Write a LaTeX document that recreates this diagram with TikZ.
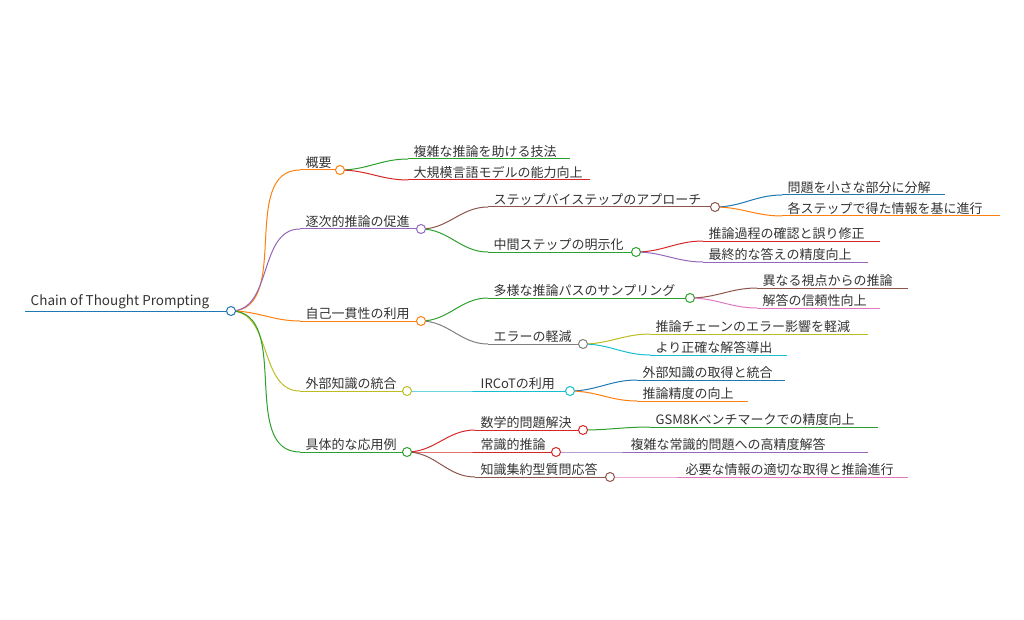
\documentclass[tikz,border=0pt]{standalone}
\usepackage{fontspec}
\setmainfont{Noto Sans CJK JP}
\definecolor{cblue}{HTML}{1F77B4}
\definecolor{corange}{HTML}{FF7F0E}
\definecolor{cgreen}{HTML}{2CA02C}
\definecolor{cred}{HTML}{D62728}
\definecolor{cpurple}{HTML}{9467BD}
\definecolor{cbrown}{HTML}{8C564B}
\definecolor{cpink}{HTML}{E377C2}
\definecolor{cgray}{HTML}{7F7F7F}
\definecolor{colive}{HTML}{BCBD22}
\definecolor{ccyan}{HTML}{17BECF}
\tikzset{
  mmline/.style={line width=1pt},
  mmtext/.style={anchor=south west, inner sep=1.5pt, font=\fontsize{13}{15}\selectfont, text=black!80},
  mmdot/.style={circle, draw, fill=white, line width=1pt, minimum size=9pt, inner sep=0pt},
}
% name, start x, end x, y, colour, text
\newcommand\mmitem[6]{%
  \coordinate (#1-s) at (#2,#4);
  \coordinate (#1-e) at (#3,#4);
  \draw[mmline,#5] (#1-s) -- (#1-e);
  \node[mmtext] (#1) at (#2+4,#4) {#6};
}
\newcommand\mmlink[3]{\draw[mmline,#3] (#1-e) to[out=0,in=180] (#2-s);}
\begin{document}
\begin{tikzpicture}[x=1pt,y=-1pt]
\useasboundingbox (0,0) rectangle (1024,620);

% root and first level
\mmitem{root}{25}{231}{311}{cblue}{\fontsize{13.5}{15}\selectfont Chain of Thought Prompting}
\mmitem{gaiyo}{300}{340}{170}{corange}{概要}
\mmitem{chikuji}{300}{421}{229}{cpurple}{逐次的推論の促進}
\mmitem{jiko}{300}{421}{321}{corange}{自己一貫性の利用}
\mmitem{gaibu}{300}{407}{391}{colive}{外部知識の統合}
\mmitem{gutai}{300}{407}{452}{cgreen}{具体的な応用例}

% second level
\mmitem{fukuzatsu}{408}{570}{159}{cgreen}{複雑な推論を助ける技法}
\mmitem{daikibo}{408}{590}{180}{cred}{大規模言語モデルの能力向上}
\mmitem{step}{488}{715}{207}{cbrown}{ステップバイステップのアプローチ}
\mmitem{chukan}{488}{636}{252}{cgreen}{中間ステップの明示化}
\mmitem{tayo}{488}{690}{298}{cgreen}{多様な推論パスのサンプリング}
\mmitem{error}{488}{583}{344}{cgray}{エラーの軽減}
\mmitem{ircot}{475}{570}{391}{ccyan}{IRCoTの利用}
\mmitem{sugaku}{475}{583}{430}{cred}{数学的問題解決}
\mmitem{joshiki}{475}{556}{452}{cred}{常識的推論}
\mmitem{chishiki}{475}{610}{477}{cbrown}{知識集約型質問応答}

% third level
\mmitem{bunkai}{782}{945}{195}{cblue}{問題を小さな部分に分解}
\mmitem{kaku}{782}{1000}{216}{corange}{各ステップで得た情報を基に進行}
\mmitem{kakunin}{703}{880}{241}{cred}{推論過程の確認と誤り修正}
\mmitem{saishu}{703}{868}{262}{cpurple}{最終的な答えの精度向上}
\mmitem{shiten}{757}{908}{288}{cbrown}{異なる視点からの推論}
\mmitem{shinrai}{757}{880}{308}{cpink}{解答の信頼性向上}
\mmitem{chain}{650}{868}{334}{colive}{推論チェーンのエラー影響を軽減}
\mmitem{seikaku}{650}{787}{355}{ccyan}{より正確な解答導出}
\mmitem{shutoku}{637}{785}{380}{cblue}{外部知識の取得と統合}
\mmitem{seido}{637}{748}{401}{corange}{推論精度の向上}
\mmitem{gsm}{650}{878}{427}{cgreen}{GSM8Kベンチマークでの精度向上}
\mmitem{kosei}{625}{868}{452}{cpurple}{複雑な常識的問題への高精度解答}
\mmitem{hitsuyo}{680}{908}{477}{cpink}{必要な情報の適切な取得と推論進行}

% connectors
\mmlink{root}{gaiyo}{corange}
\mmlink{root}{chikuji}{cpurple}
\mmlink{root}{jiko}{corange}
\mmlink{root}{gaibu}{colive}
\mmlink{root}{gutai}{cgreen}
\mmlink{gaiyo}{fukuzatsu}{cgreen}
\mmlink{gaiyo}{daikibo}{cred}
\mmlink{chikuji}{step}{cbrown}
\mmlink{chikuji}{chukan}{cgreen}
\mmlink{jiko}{tayo}{cgreen}
\mmlink{jiko}{error}{cgray}
\mmlink{gaibu}{ircot}{ccyan}
\mmlink{gutai}{sugaku}{cred}
\mmlink{gutai}{joshiki}{cred}
\mmlink{gutai}{chishiki}{cbrown}
\mmlink{step}{bunkai}{cblue}
\mmlink{step}{kaku}{corange}
\mmlink{chukan}{kakunin}{cred}
\mmlink{chukan}{saishu}{cpurple}
\mmlink{tayo}{shiten}{cbrown}
\mmlink{tayo}{shinrai}{cpink}
\mmlink{error}{chain}{colive}
\mmlink{error}{seikaku}{ccyan}
\mmlink{ircot}{shutoku}{cblue}
\mmlink{ircot}{seido}{corange}
\mmlink{sugaku}{gsm}{cgreen}
\mmlink{joshiki}{kosei}{cpurple}
\mmlink{chishiki}{hitsuyo}{cpink}

% dots
\foreach \n/\c in {root/cblue, gaiyo/corange, chikuji/cpurple, jiko/corange,
    gaibu/colive, gutai/cgreen, step/cbrown, chukan/cgreen, tayo/cgreen,
    error/cgray, ircot/ccyan, sugaku/cred, joshiki/cred, chishiki/cbrown}
  \node[mmdot,draw=\c] at (\n-e) {};
\end{tikzpicture}
\end{document}
